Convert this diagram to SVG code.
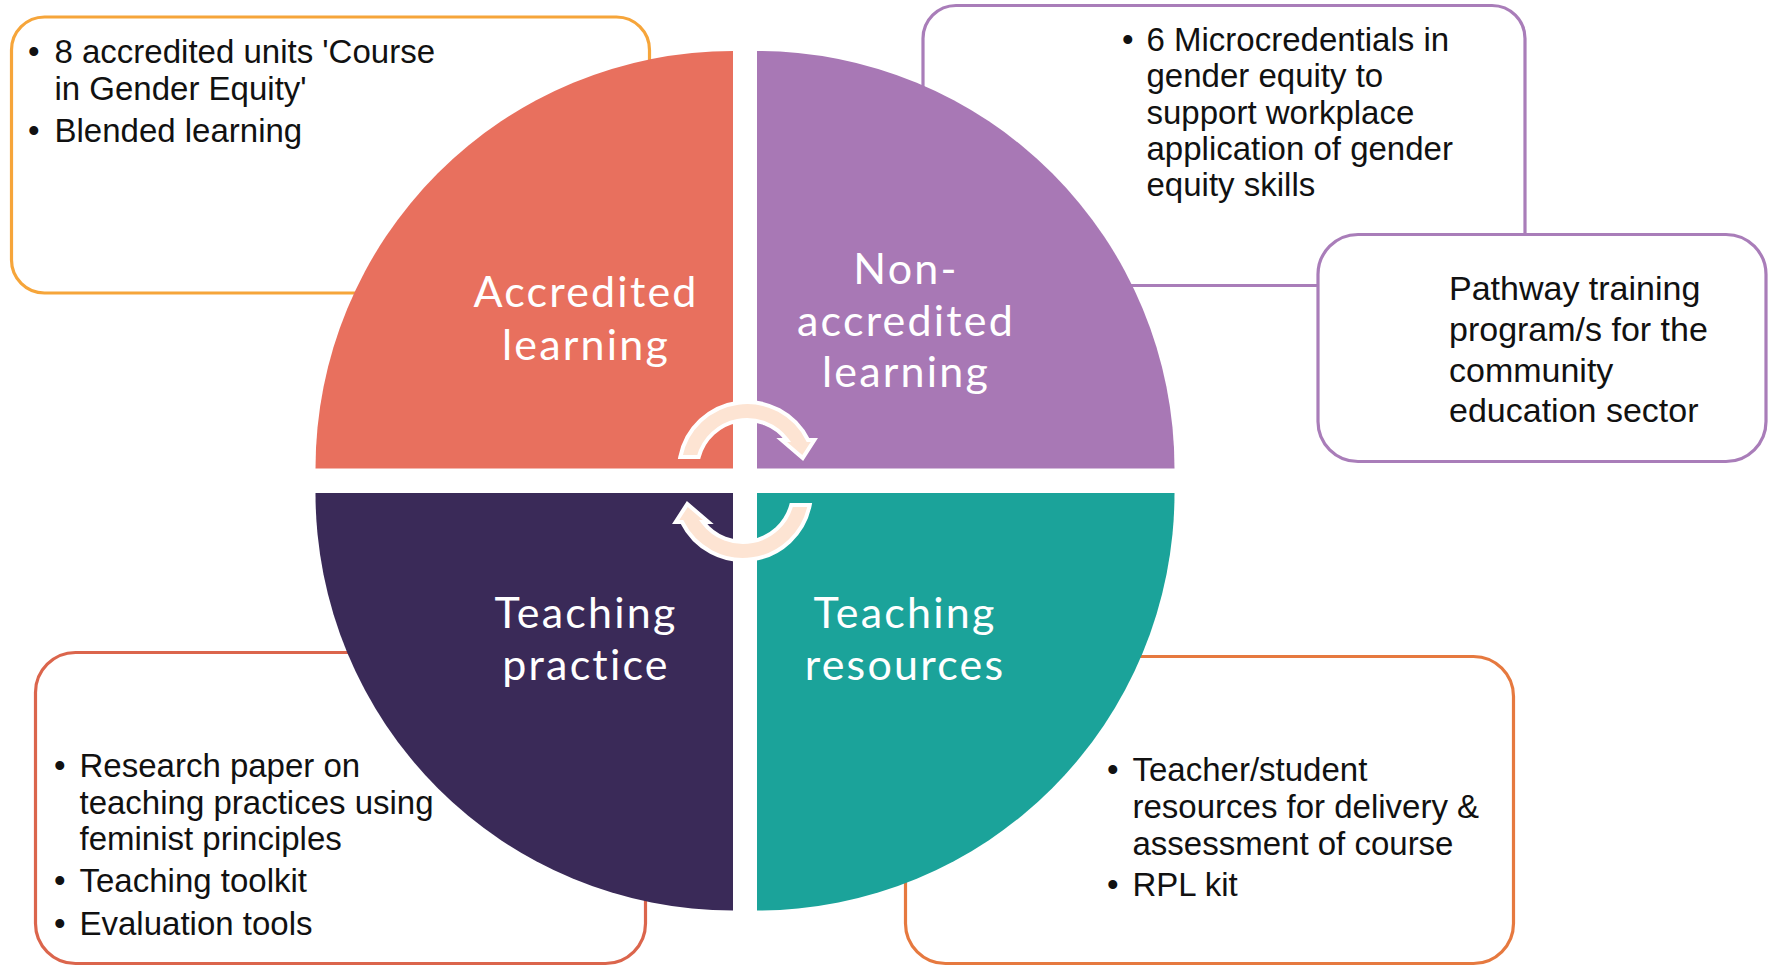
<svg xmlns="http://www.w3.org/2000/svg" width="1769" height="966" viewBox="0 0 1769 966">
<style>
.box{fill:#ffffff;stroke-width:3.2}
.body{font-family:"Liberation Sans",Arial,sans-serif;font-size:33px;fill:#111111}
.path{font-size:34px}
.lbl{font-family:Lato,"Liberation Sans",sans-serif;font-size:43px;fill:#ffffff;text-anchor:middle;letter-spacing:2.2px}
.arr{fill:#FDE4D3;stroke:#ffffff;stroke-width:4;stroke-linejoin:miter}
</style>
<rect width="1769" height="966" fill="#ffffff"/>
<g id="box-accredited">
<rect class="box" x="11.5" y="17" width="638" height="276" rx="33" stroke="#F6A53A"/>
<text class="body"><tspan x="28" y="63">•</tspan><tspan x="54.5" y="63">8 accredited units 'Course</tspan><tspan x="54.5" y="99.5">in Gender Equity'</tspan><tspan x="28" y="142">•</tspan><tspan x="54.5" y="142">Blended learning</tspan></text>
</g>
<g id="box-microcredentials">
<rect class="box" x="923" y="5.5" width="602" height="280" rx="33" stroke="#A97DB9"/>
<text class="body"><tspan x="1122" y="51">•</tspan><tspan x="1146.5" y="51">6 Microcredentials in</tspan><tspan x="1146.5" y="87.3">gender equity to</tspan><tspan x="1146.5" y="123.6">support workplace</tspan><tspan x="1146.5" y="159.9">application of gender</tspan><tspan x="1146.5" y="196.2">equity skills</tspan></text>
</g>
<g id="box-pathway">
<rect class="box" x="1318" y="234.5" width="448" height="227" rx="40" stroke="#A97DB9"/>
<text class="body path"><tspan x="1449" y="300">Pathway training</tspan><tspan x="1449" y="340.5">program/s for the</tspan><tspan x="1449" y="381.5">community</tspan><tspan x="1449" y="422">education sector</tspan></text>
</g>
<g id="box-practice">
<rect class="box" x="35.5" y="652.5" width="610" height="311" rx="40" stroke="#DB654C"/>
<text class="body"><tspan x="54" y="777">•</tspan><tspan x="79.5" y="777">Research paper on</tspan><tspan x="79.5" y="813.5">teaching practices using</tspan><tspan x="79.5" y="850">feminist principles</tspan><tspan x="54" y="892">•</tspan><tspan x="79.5" y="892">Teaching toolkit</tspan><tspan x="54" y="934.5">•</tspan><tspan x="79.5" y="934.5">Evaluation tools</tspan></text>
</g>
<g id="box-resources">
<rect class="box" x="905.5" y="656.5" width="608" height="307" rx="40" stroke="#E6793F"/>
<text class="body"><tspan x="1107" y="781">•</tspan><tspan x="1132.5" y="781">Teacher/student</tspan><tspan x="1132.5" y="817.5">resources for delivery &amp;</tspan><tspan x="1132.5" y="854.5">assessment of course</tspan><tspan x="1107" y="896">•</tspan><tspan x="1132.5" y="896">RPL kit</tspan></text>
</g>
<g id="q-accredited">
<path d="M733 468.5 L315.5 468.5 A417.5 417.5 0 0 1 733 51 Z" fill="#E8705E"/>
<text class="lbl"><tspan x="586" y="307">Accredited</tspan><tspan x="586" y="359.5">learning</tspan></text>
</g>
<g id="q-nonaccredited">
<path d="M757 468.5 L757 51 A417.5 417.5 0 0 1 1174.5 468.5 Z" fill="#A878B5"/>
<text class="lbl"><tspan x="906" y="284">Non-</tspan><tspan x="906" y="335.5">accredited</tspan><tspan x="906" y="387">learning</tspan></text>
</g>
<g id="q-practice">
<path d="M733 493 L733 910.5 A417.5 417.5 0 0 1 315.5 493 Z" fill="#3A2A58"/>
<text class="lbl"><tspan x="586" y="628">Teaching</tspan><tspan x="586" y="679.5">practice</tspan></text>
</g>
<g id="q-resources">
<path d="M757 493 L1174.5 493 A417.5 417.5 0 0 1 757 910.5 Z" fill="#1BA39A"/>
<text class="lbl"><tspan x="905" y="628">Teaching</tspan><tspan x="905" y="679.5">resources</tspan></text>
</g>
<g id="connectors">
<path id="arrow-top" class="arr" d="M680.3 457 A68 68 0 0 1 808 440 L814.3 440 L802.7 458 L781.7 440 L787 440 A50 50 0 0 0 698.7 457 Z"/>
<path id="arrow-bottom" class="arr" transform="rotate(180 745 481)" d="M680.3 457 A68 68 0 0 1 808 440 L814.3 440 L802.7 458 L781.7 440 L787 440 A50 50 0 0 0 698.7 457 Z"/>
</g>
</svg>
